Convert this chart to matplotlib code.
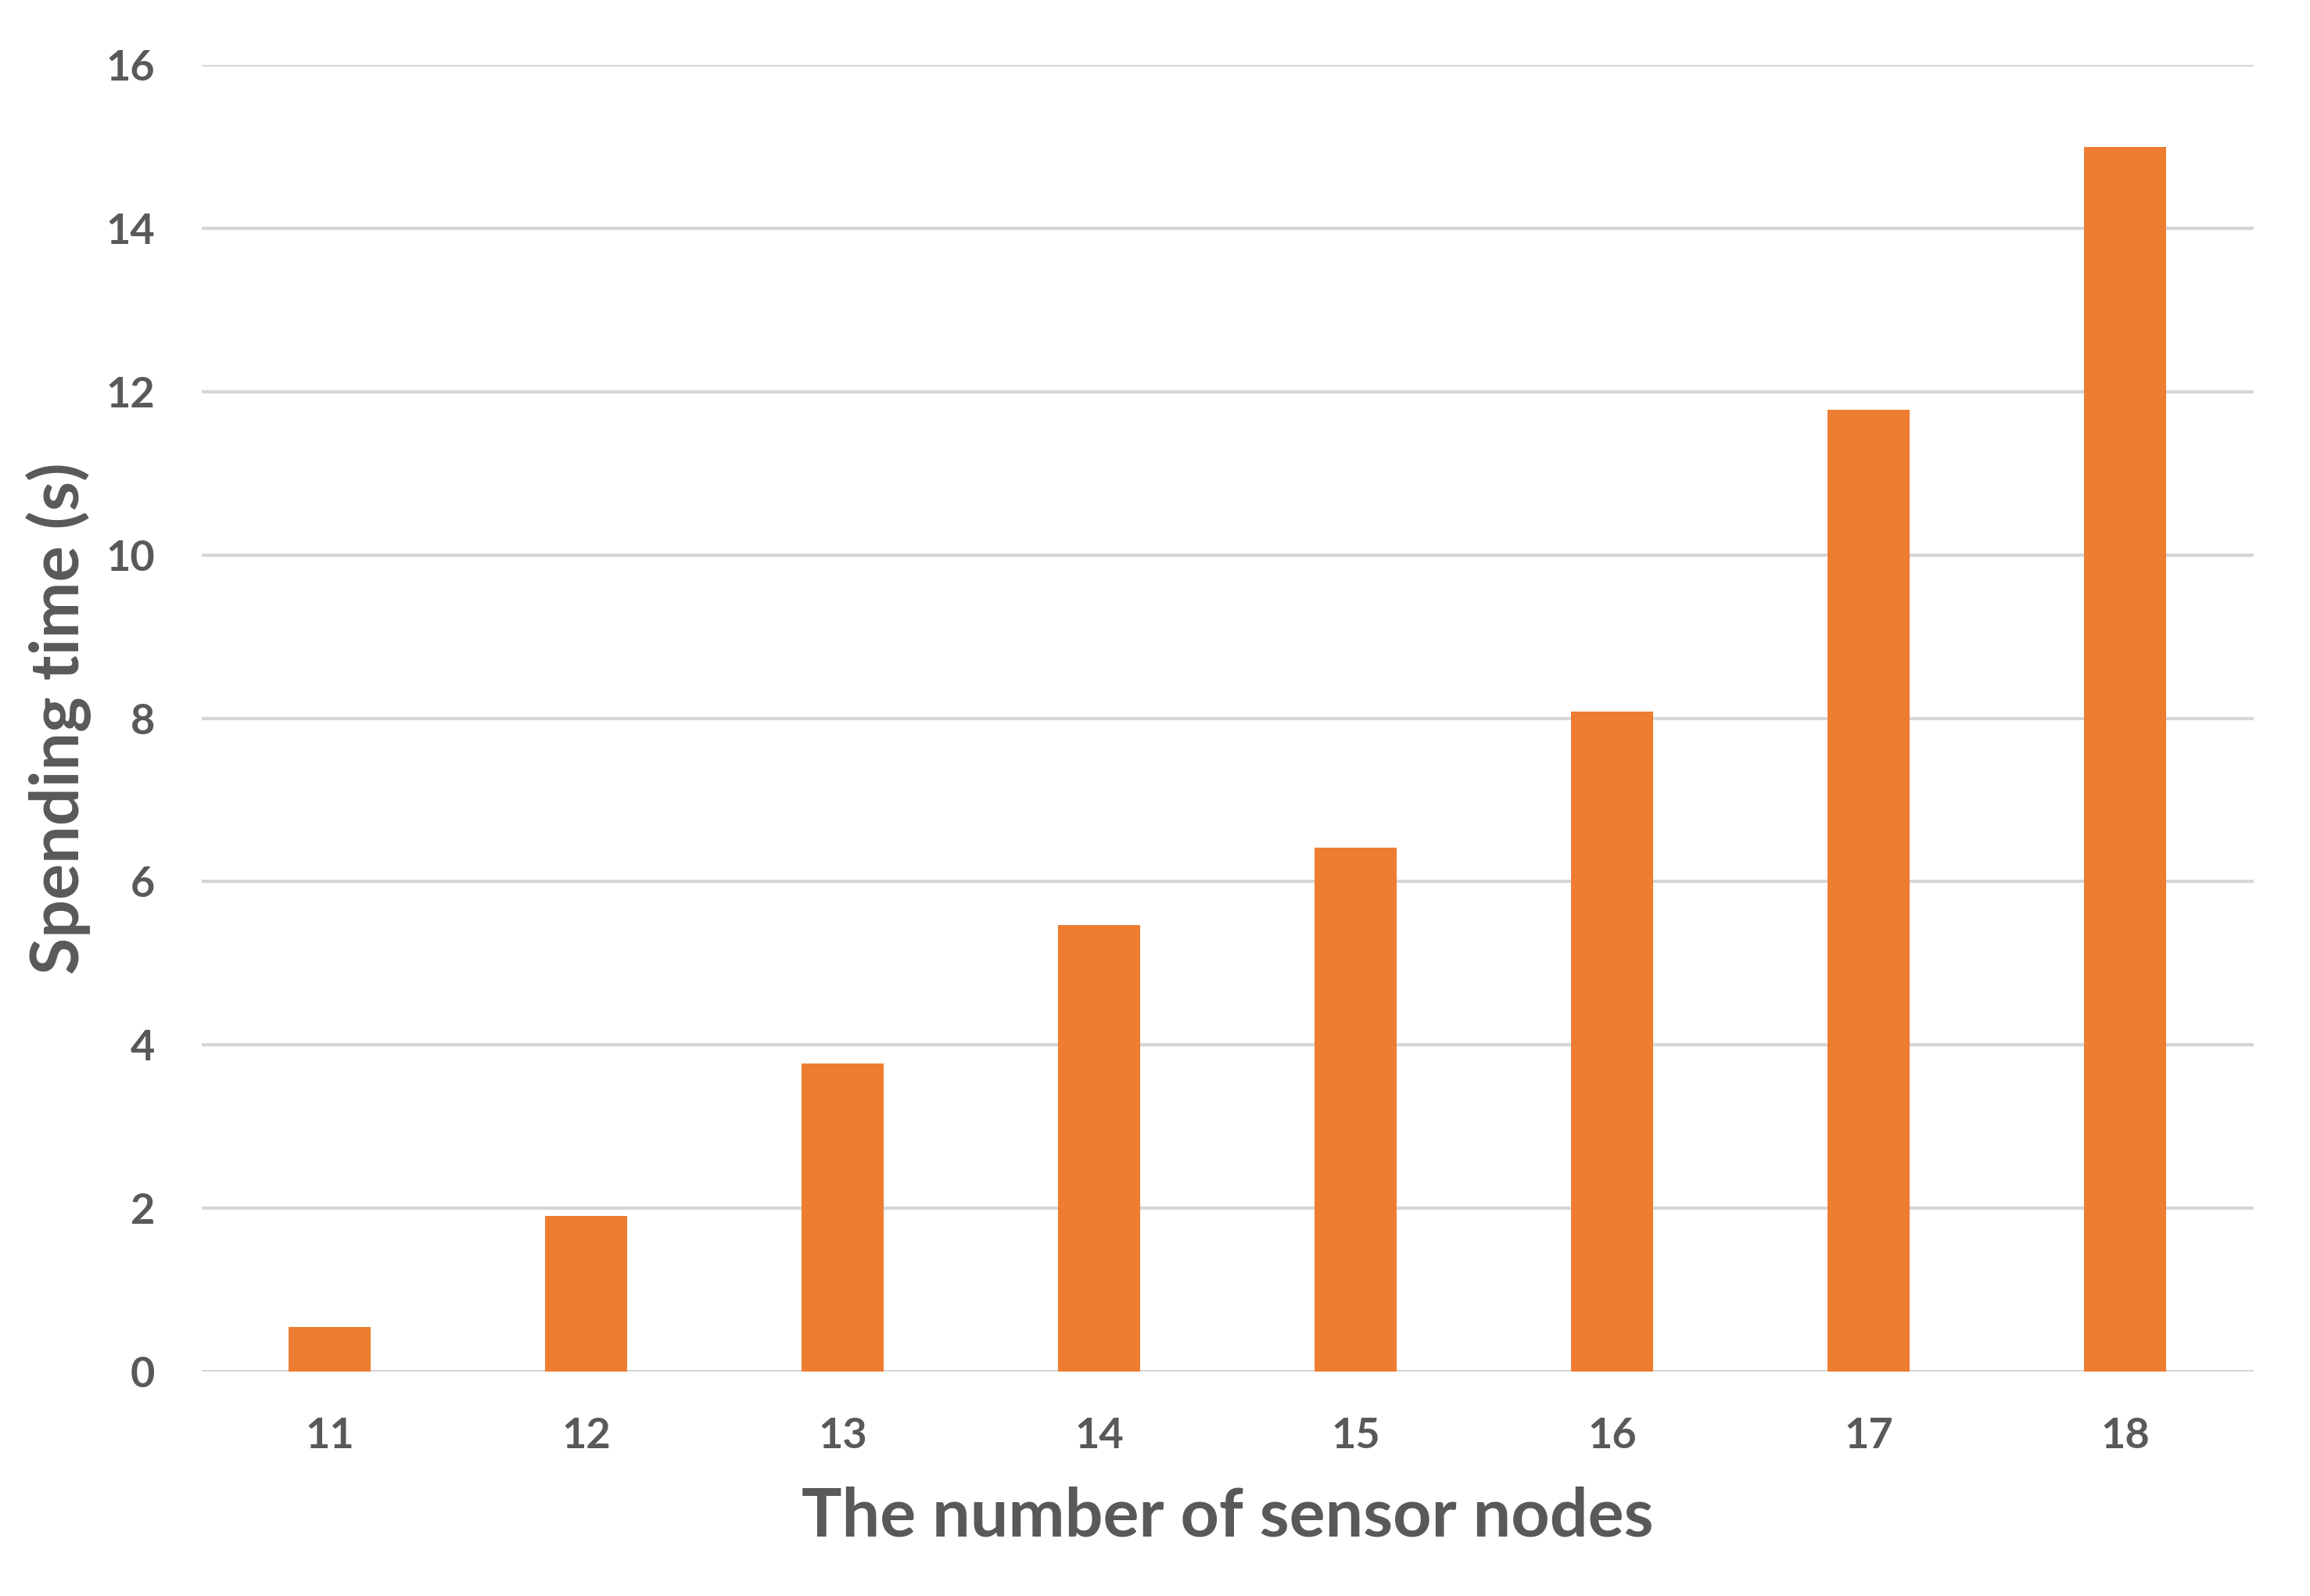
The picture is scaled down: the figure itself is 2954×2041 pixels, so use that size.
import matplotlib
matplotlib.use("Agg")
import matplotlib.pyplot as plt

categories = ["11", "12", "13", "14", "15", "16", "17", "18"]
values = [0.55, 1.91, 3.77, 5.47, 6.42, 8.08, 11.78, 15.0]
yticks = [0, 2, 4, 6, 8, 10, 12, 14, 16]

TEXT = "#595959"
plt.rcParams['font.family'] = ['Lato', 'DejaVu Sans']

fig = plt.figure(figsize=(29.54, 20.41), dpi=100)
ax = fig.add_axes([0.0873, 0.1406, 0.8883, 0.8187])

x = list(range(len(categories)))
ax.bar(x, values, width=0.32, color="#ED7D31", zorder=3)

ax.set_xlim(-0.5, len(categories) - 0.5)
ax.set_ylim(0, 16)
ax.set_yticks(yticks)
ax.set_yticklabels([str(t) for t in yticks])
ax.set_xticks(x)
ax.set_xticklabels(categories)

ax.grid(axis='y', color="#d6d6d6", linewidth=3, zorder=0)
for s in ax.spines.values():
    s.set_visible(False)
ax.tick_params(axis='both', length=0, labelsize=39, labelcolor=TEXT)
ax.tick_params(axis='y', pad=43)
ax.tick_params(axis='x', pad=42)
for lab in ax.get_xticklabels() + ax.get_yticklabels():
    lab.set_fontweight('bold')

ax.set_xlabel("The number of sensor nodes", fontsize=62, fontweight='bold', color=TEXT, va='center')
ax.xaxis.set_label_coords(0.5, -0.111)
ax.set_ylabel("Spending time (s)", fontsize=62, fontweight='bold', color=TEXT, va='center')
ax.yaxis.set_label_coords(-0.0697, 0.5)

fig.savefig("out.png", dpi=100, facecolor='white')
